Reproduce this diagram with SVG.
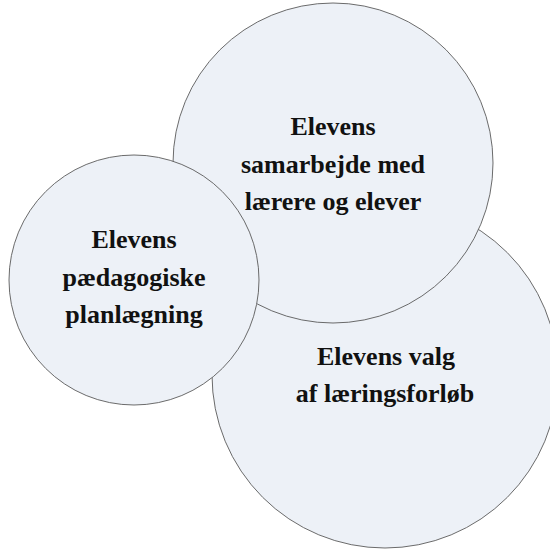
<svg xmlns="http://www.w3.org/2000/svg" width="550" height="549" viewBox="0 0 550 549">
<style>
.c{fill:#edf1f7;stroke:#5a5a5a;stroke-width:0.9}
text{font-family:Liberation Serif,Tinos,Times New Roman,Times,DejaVu Serif,serif;font-weight:700;font-size:26px;fill:#111;text-anchor:middle}
</style>
<rect width="550" height="549" fill="#fff"/>
<g id="connectors"></g>
<g id="node-valg">
<circle class="c" cx="385" cy="375" r="173"/>
<text x="386" y="365">Elevens valg</text>
<text x="385" y="402">af læringsforløb</text>
</g>
<g id="node-samarbejde">
<circle class="c" cx="333" cy="163" r="160"/>
<text x="333" y="135">Elevens</text>
<text x="333" y="173">samarbejde med</text>
<text x="333" y="210">lærere og elever</text>
</g>
<g id="node-planlaegning">
<circle class="c" cx="134" cy="280" r="125"/>
<text x="134" y="248">Elevens</text>
<text x="134" y="286">pædagogiske</text>
<text x="134" y="323">planlægning</text>
</g>
</svg>
